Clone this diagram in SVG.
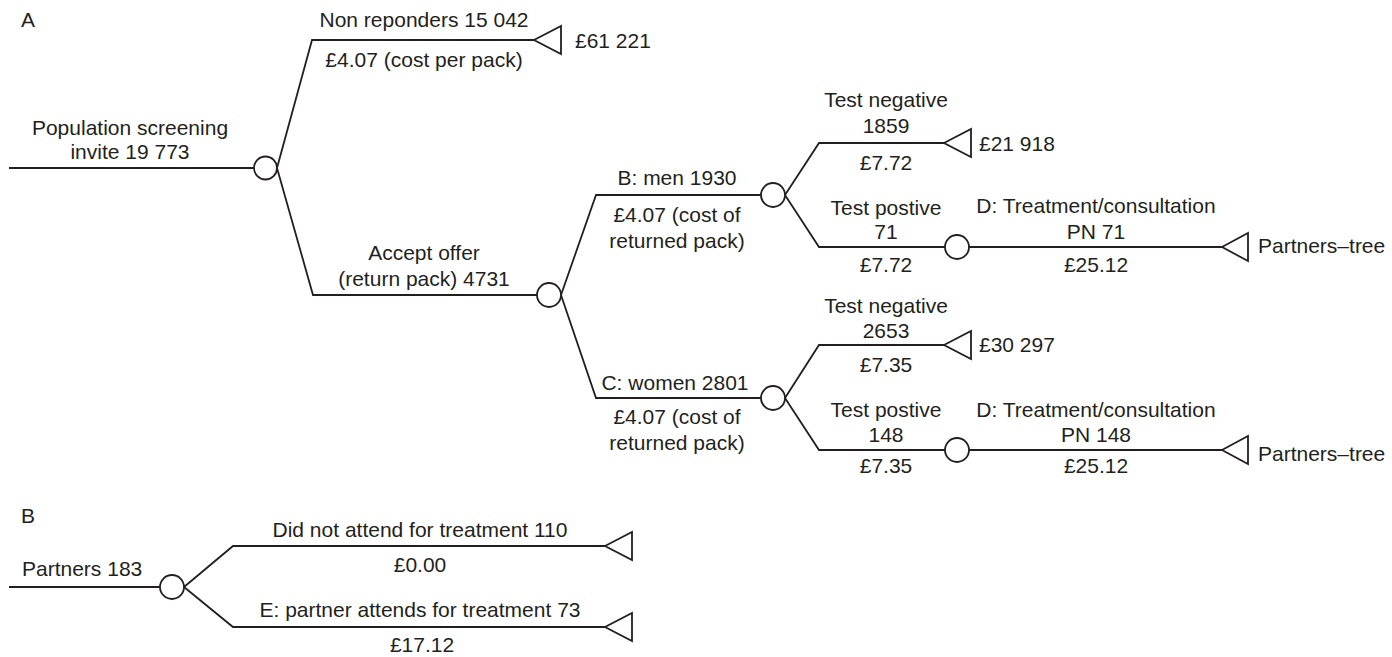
<svg xmlns="http://www.w3.org/2000/svg" width="1392" height="657" viewBox="0 0 1392 657">
<style>
text{font-family:"Liberation Sans",Arial,sans-serif;font-size:21px;fill:#231f20}
.m{text-anchor:middle}
.ln{fill:none;stroke:#231f20;stroke-width:1.8;stroke-linejoin:miter}
.ch{fill:#fff;stroke:#231f20;stroke-width:1.8}
.tm{fill:#fff;stroke:#231f20;stroke-width:1.8;stroke-linejoin:miter}
</style>
<rect width="1392" height="657" fill="#fff"/>
<text x="21" y="27">A</text>
<text x="21" y="523">B</text>

<g id="connectors">
  <path class="ln" d="M9 168H254"/>
  <path class="ln" d="M277 168L312 40H534"/>
  <path class="ln" d="M277 168L313 295H537"/>
  <path class="ln" d="M561 295L596 195H761"/>
  <path class="ln" d="M561 295L596 398H761"/>
  <path class="ln" d="M785 195L819 143H944"/>
  <path class="ln" d="M785 195L819 247H945"/>
  <path class="ln" d="M969 247H1222"/>
  <path class="ln" d="M785 398L819 345H944"/>
  <path class="ln" d="M785 398L819 450H945"/>
  <path class="ln" d="M969 450H1222"/>
  <path class="ln" d="M9 587H160"/>
  <path class="ln" d="M184 587L233 546H605"/>
  <path class="ln" d="M184 587L233 627H605"/>
</g>

<g id="labels">
  <text class="m" x="130" y="135">Population screening</text>
  <text class="m" x="130" y="159">invite 19 773</text>
  <text class="m" x="424" y="27">Non reponders 15 042</text>
  <text class="m" x="424" y="67">£4.07 (cost per pack)</text>
  <text class="m" x="424" y="260">Accept offer</text>
  <text class="m" x="424" y="286">(return pack) 4731</text>
  <text class="m" x="677" y="185">B: men 1930</text>
  <text class="m" x="677" y="222">£4.07 (cost of</text>
  <text class="m" x="677" y="248">returned pack)</text>
  <text class="m" x="675" y="390">C: women 2801</text>
  <text class="m" x="677" y="424">£4.07 (cost of</text>
  <text class="m" x="677" y="450">returned pack)</text>
  <text class="m" x="886" y="107">Test negative</text>
  <text class="m" x="886" y="133">1859</text>
  <text class="m" x="886" y="170">£7.72</text>
  <text class="m" x="886" y="215">Test postive</text>
  <text class="m" x="886" y="239">71</text>
  <text class="m" x="886" y="272">£7.72</text>
  <text class="m" x="1096" y="213">D: Treatment/consultation</text>
  <text class="m" x="1096" y="239">PN 71</text>
  <text class="m" x="1096" y="272">£25.12</text>
  <text class="m" x="886" y="313">Test negative</text>
  <text class="m" x="886" y="338">2653</text>
  <text class="m" x="886" y="372">£7.35</text>
  <text class="m" x="886" y="417">Test postive</text>
  <text class="m" x="886" y="442">148</text>
  <text class="m" x="886" y="473">£7.35</text>
  <text class="m" x="1096" y="417">D: Treatment/consultation</text>
  <text class="m" x="1096" y="442">PN 148</text>
  <text class="m" x="1096" y="473">£25.12</text>
  <text x="22" y="576">Partners 183</text>
  <text class="m" x="420" y="537">Did not attend for treatment 110</text>
  <text class="m" x="420" y="572">£0.00</text>
  <text class="m" x="420" y="617">E: partner attends for treatment 73</text>
  <text class="m" x="422" y="652">£17.12</text>
</g>

<g id="chance-root"><circle class="ch" cx="265.5" cy="168" r="11.5"/></g>
<g id="chance-accept"><circle class="ch" cx="549" cy="295" r="12"/></g>
<g id="chance-men"><circle class="ch" cx="773" cy="195" r="12"/></g>
<g id="chance-women"><circle class="ch" cx="773" cy="398" r="12"/></g>
<g id="chance-men-pos"><circle class="ch" cx="957" cy="247" r="12"/></g>
<g id="chance-women-pos"><circle class="ch" cx="957" cy="450" r="12"/></g>
<g id="chance-partners"><circle class="ch" cx="172" cy="587" r="12"/></g>

<g id="term-nonresp"><polygon class="tm" points="534,40 561,26 561,54"/><text x="575" y="48">£61 221</text></g>
<g id="term-men-neg"><polygon class="tm" points="944,143 971,129 971,157"/><text x="979" y="151">£21 918</text></g>
<g id="term-men-pt"><polygon class="tm" points="1222,247 1248,233 1248,261"/><text x="1258" y="253">Partners–tree</text></g>
<g id="term-women-neg"><polygon class="tm" points="944,345 971,331 971,359"/><text x="979" y="352">£30 297</text></g>
<g id="term-women-pt"><polygon class="tm" points="1222,450 1248,436 1248,464"/><text x="1258" y="461">Partners–tree</text></g>
<g id="term-notattend"><polygon class="tm" points="605,546 632,532 632,560"/></g>
<g id="term-attend"><polygon class="tm" points="605,627 632,613 632,641"/></g>
</svg>
